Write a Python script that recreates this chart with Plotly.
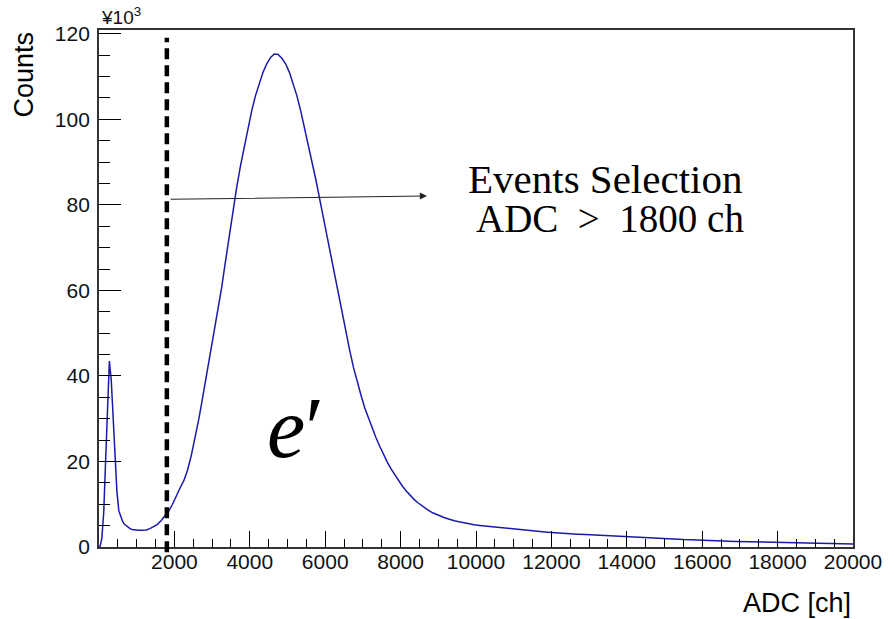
import numpy as np
import plotly.graph_objects as go

# ADC spectrum, counts in units of 10^3 per bin
# bins: 50 ch wide below 1000 ch, 100 ch up to 10000 ch, 200 ch above
low_counts_k = [0, 2, 8, 20, 32, 43.5, 39, 30, 20, 13,
                8.5, 7, 6, 5.3, 4.9, 4.6, 4.3, 4.1, 4.0, 3.9]
mid_counts_k = [3.9, 3.9, 4.0, 4.3, 4.8, 5.3, 6.2, 7.2, 8.4, 10.0,
                12.0, 13.8, 15.5, 18.0, 21.5, 25.5, 30.0, 35.0, 40.0, 45.0,
                50.5, 55.5, 60.5, 66.5, 72.5, 78.5, 84.0, 89.0, 93.5, 98.0,
                102.0, 105.5, 108.5, 111.0, 113.0, 114.5, 115.3, 115.2, 114.3, 113.0,
                111.0, 108.5, 105.5, 102.0, 98.0, 94.5, 90.5, 86.0, 81.5, 77.0,
                72.5, 68.0, 63.5, 59.0, 54.5, 50.0, 46.0, 42.0, 38.5, 35.5,
                32.5, 30.0, 27.5, 25.5, 23.5, 21.5, 19.8, 18.2, 16.8, 15.4,
                14.2, 13.1, 12.1, 11.2, 10.4, 9.7, 9.1, 8.5, 8.0, 7.6,
                7.2, 6.9, 6.6, 6.3, 6.1, 5.9, 5.7, 5.5, 5.35, 5.2]
high_counts_k = [5.05, 4.85, 4.65, 4.45, 4.25, 4.05, 3.9, 3.75, 3.6, 3.45,
                 3.3, 3.2, 3.1, 3.0, 2.9, 2.8, 2.7, 2.6, 2.5, 2.4,
                 2.3, 2.2, 2.15, 2.05, 2.0, 1.9, 1.85, 1.75, 1.7, 1.6,
                 1.55, 1.45, 1.4, 1.35, 1.3, 1.25, 1.2, 1.15, 1.1, 1.05,
                 1.0, 1.0, 0.95, 0.95, 0.9, 0.85, 0.8, 0.75, 0.75, 0.7]

bin_edges = np.concatenate([np.arange(0, 1000, 50),
                            np.arange(1000, 10000, 100),
                            np.arange(10000, 20001, 200)])
counts_k = low_counts_k + mid_counts_k + high_counts_k
assert len(bin_edges) == len(counts_k) + 1
bin_centers = 0.5 * (bin_edges[:-1] + bin_edges[1:])

adc_cut = 1800          # event selection threshold [ch]
x_ticks = [2000, 4000, 6000, 8000, 10000, 12000, 14000, 16000, 18000, 20000]
x_tick_labels = [str(v) for v in x_ticks]
y_ticks = [0, 20, 40, 60, 80, 100, 120]

FRAME = "#333333"
SANS = "Liberation Sans, Arial, sans-serif"
SERIF = "Liberation Serif, Times New Roman, serif"

L, R, T, B = 99, 34, 30, 72
W, H = 894, 619
pw, ph = W - L - R, H - T - B


def px_x(px):
    return (px - L) / pw


def px_y(py):
    return (H - B - py) / ph


fig = go.Figure()
# histogram outline through the bin centres
fig.add_trace(go.Scatter(
    x=np.concatenate([[0], bin_centers, [20000]]),
    y=[0] + counts_k + [counts_k[-1]],
    mode="lines",
    line=dict(color="rgb(26,26,170)", width=1.5),
    hoverinfo="skip",
    showlegend=False,
))

# selection threshold
fig.add_shape(type="line", xref="x", yref="paper",
              x0=adc_cut, x1=adc_cut, y0=-0.01, y1=0.985,
              line=dict(color="black", width=4.5, dash="11px,6px"))

# arrow pointing to the accepted region
fig.add_annotation(x=8700, y=82.1, ax=adc_cut + 60, ay=81.3,
                   xref="x", yref="y", axref="x", ayref="y",
                   text="", showarrow=True, arrowhead=2, arrowsize=1.3,
                   arrowwidth=1.1, arrowcolor="#222222", standoff=0)

fig.add_annotation(text="Events Selection", showarrow=False,
                   x=px_x(610), y=px_y(179), xref="paper", yref="paper",
                   xanchor="center", yanchor="middle",
                   font=dict(family=SERIF, size=41, color="black"))
fig.add_annotation(text="ADC &nbsp;&gt;&nbsp; 1800 ch", showarrow=False,
                   x=px_x(615), y=px_y(218), xref="paper", yref="paper",
                   xanchor="center", yanchor="middle",
                   font=dict(family=SERIF, size=39, color="black"))
fig.add_annotation(text="<i>e</i>′", showarrow=False,
                   x=px_x(297), y=px_y(428), xref="paper", yref="paper",
                   xanchor="center", yanchor="middle",
                   font=dict(family=SERIF, size=86, color="black"))

fig.add_annotation(text="Counts", textangle=-90, showarrow=False,
                   x=-0.1, y=1.0, xref="paper", yref="paper",
                   xanchor="center", yanchor="top",
                   font=dict(family=SANS, size=27, color="black"))
fig.add_annotation(text="ADC [ch]", showarrow=False,
                   x=1.0, y=-0.075, xref="paper", yref="paper",
                   xanchor="right", yanchor="top",
                   font=dict(family=SANS, size=27, color="black"))
fig.add_annotation(text="¥10<sup>3</sup>", showarrow=False,
                   x=0.0, y=1.0, xref="paper", yref="paper",
                   xanchor="left", yanchor="bottom",
                   font=dict(family=SANS, size=19, color="#111111"))

fig.update_xaxes(range=[0, 20000], tickvals=x_ticks, ticktext=x_tick_labels,
                 ticks="inside", ticklen=16, tickwidth=1.2, tickcolor="black",
                 minor=dict(ticks="inside", ticklen=8, dtick=500, tick0=0,
                            tickcolor="black", tickwidth=1.2),
                 showline=True, linecolor=FRAME, linewidth=1.8, mirror=True,
                 showgrid=False, zeroline=False, ticklabelstandoff=-5,
                 tickfont=dict(family=SANS, size=21, color="#111111"))
fig.update_yaxes(range=[0, 120.9], tickvals=y_ticks,
                 ticks="inside", ticklen=22, tickwidth=1.2, tickcolor="black",
                 minor=dict(ticks="inside", ticklen=11, dtick=5, tick0=0,
                            tickcolor="black", tickwidth=1.2),
                 showline=True, linecolor=FRAME, linewidth=1.8, mirror=True,
                 showgrid=False, zeroline=False, ticklabelstandoff=3,
                 tickfont=dict(family=SANS, size=21, color="#111111"))

fig.update_layout(width=W, height=H,
                  margin=dict(l=L, r=R, t=T, b=B),
                  plot_bgcolor="white", paper_bgcolor="white")

fig.write_html("out.html")
